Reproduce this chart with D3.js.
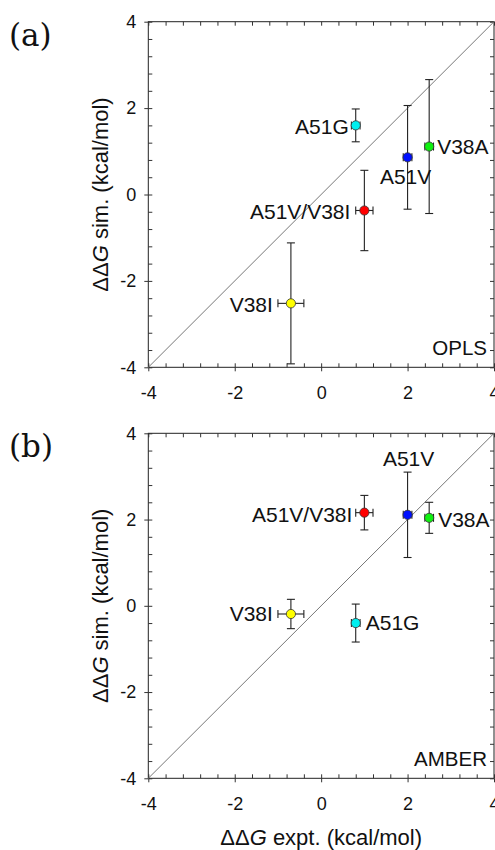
<!DOCTYPE html>
<html>
<head>
<meta charset="utf-8">
<script src="https://cdn.jsdelivr.net/npm/d3@7"></script>
<style>
  body { margin: 0; background: #fff; }
  svg { display: block; font-family: "Liberation Sans", Arial, sans-serif; }
</style>
</head>
<body>
<svg id="svgRoot" width="495" height="850"></svg>
<script>
// data
const mutants = ["A51G", "A51V", "V38A", "A51V/V38I", "V38I"]
const exptValues = [0.8, 2.0, 2.5, 1.0, -0.7]
const exptErrors = [0.1, 0.1, 0.1, 0.2, 0.3]
const oplsValues = [1.6, 0.86, 1.11, -0.37, -2.52]
const oplsErrors = [0.38, 1.2, 1.55, 0.93, 1.4]
const amberValues = [-0.4, 2.11, 2.04, 2.16, -0.19]
const amberErrors = [0.44, 0.99, 0.36, 0.4, 0.34]
const pointColors = ["#00f0f0", "#0010ff", "#10f010", "#ff0000", "#ffff00"]
const majorTicks = [-4, -2, 0, 2, 4]
const axisDomain = [-4, 4]

// label placement: [anchor, dx, dy]
const oplsLabelPos = [["end", -7, 1.5], ["middle", -2, 19], ["start", 8, 0], ["end", -14, 1], ["end", -18, 1]]
const amberLabelPos = [["start", 10, 0], ["middle", 1, -56], ["start", 9, 2], ["end", -12, 1.5], ["end", -18, 0]]

const minorTicks = d3.range(-40, 41, 4).map(d => d / 10)

const svg = d3.select("#svgRoot")

const left = 148.3, right = 494

function draw_panel(top, bottom, simValues, simErrors, labelPos, tag, name, showXTitle) {
  let g = svg.append("g")

  let x = d3.scaleLinear().domain(axisDomain).range([left, right])
  let y = d3.scaleLinear().domain(axisDomain).range([bottom, top])

  // frame
  g.append("rect")
    .attr("x", left).attr("y", top)
    .attr("width", right - left).attr("height", bottom - top)
    .attr("fill", "none").attr("stroke", "#222").attr("stroke-width", 1)

  // inner minor ticks on all sides
  let inner = [
    [d3.axisBottom(x), "translate(0," + bottom + ")"],
    [d3.axisTop(x), "translate(0," + top + ")"],
    [d3.axisLeft(y), "translate(" + left + ",0)"],
    [d3.axisRight(y), "translate(" + right + ",0)"],
  ]
  inner.forEach(([ax, tr]) => {
    g.append("g").attr("transform", tr)
      .call(ax.tickValues(minorTicks).tickSize(-4).tickFormat(() => ""))
      .call(s => s.select(".domain").remove())
      .selectAll("line").attr("stroke", "#333")
  })

  // major ticks with labels
  let gx = g.append("g").attr("transform", "translate(0," + bottom + ")")
    .call(d3.axisBottom(x).tickValues(majorTicks).tickSize(4).tickPadding(15).tickFormat(d => String(d)))
  let gy = g.append("g").attr("transform", "translate(" + left + ",0)")
    .call(d3.axisLeft(y).tickValues(majorTicks).tickSize(4).tickPadding(8).tickFormat(d => String(d)))
  ;[gx, gy].forEach(a => {
    a.select(".domain").remove()
    a.selectAll("line").attr("stroke", "#333")
    a.selectAll("text").attr("font-size", 18).attr("fill", "#111")
      .attr("font-family", "'Liberation Sans', Arial, sans-serif")
  })

  // diagonal
  g.append("line")
    .attr("x1", x(-4)).attr("y1", y(-4))
    .attr("x2", x(4)).attr("y2", y(4))
    .attr("stroke", "#777").attr("stroke-width", 1)

  let data = mutants.map((m, i) => ({
    name: m, x: exptValues[i], xe: exptErrors[i],
    y: simValues[i], ye: simErrors[i], color: pointColors[i], pos: labelPos[i]
  }))

  let eb = g.append("g").attr("stroke", "#222").attr("stroke-width", 1.1)
  data.forEach(d => {
    // vertical error
    eb.append("line").attr("x1", x(d.x)).attr("x2", x(d.x))
      .attr("y1", y(d.y + d.ye)).attr("y2", y(d.y - d.ye))
    ;[d.y + d.ye, d.y - d.ye].forEach(v => {
      eb.append("line").attr("x1", x(d.x) - 4).attr("x2", x(d.x) + 4)
        .attr("y1", y(v)).attr("y2", y(v))
    })
    // horizontal error
    eb.append("line").attr("y1", y(d.y)).attr("y2", y(d.y))
      .attr("x1", x(d.x - d.xe)).attr("x2", x(d.x + d.xe))
    ;[d.x - d.xe, d.x + d.xe].forEach(v => {
      eb.append("line").attr("y1", y(d.y) - 4).attr("y2", y(d.y) + 4)
        .attr("x1", x(v)).attr("x2", x(v))
    })
  })

  g.selectAll(".pt").data(data).enter().append("circle")
    .attr("class", "pt")
    .attr("cx", d => x(d.x)).attr("cy", d => y(d.y))
    .attr("r", 4.6)
    .attr("fill", d => d.color)
    .attr("stroke", "#333").attr("stroke-width", 0.8)

  g.selectAll(".lbl").data(data).enter().append("text")
    .attr("class", "lbl")
    .attr("x", d => x(d.x) + d.pos[1])
    .attr("y", d => y(d.y) + d.pos[2])
    .attr("dy", "0.35em")
    .attr("text-anchor", d => d.pos[0])
    .attr("font-size", 21).attr("fill", "#111")
    .text(d => d.name)

  // force field name
  g.append("text").attr("x", 487).attr("y", bottom - 12)
    .attr("text-anchor", "end").attr("font-size", 20.5).attr("fill", "#111")
    .text(name)

  // panel tag
  g.append("text").attr("x", 9).attr("y", top + 24)
    .attr("font-family", "'DejaVu Serif', serif").attr("font-size", 31).attr("fill", "#111")
    .text(tag)

  // y title
  let yt = g.append("text")
    .attr("transform", "translate(100," + ((top + bottom) / 2) + ") rotate(-90)")
    .attr("text-anchor", "middle").attr("dy", "0.35em")
    .attr("font-size", 22).attr("fill", "#111")
  yt.append("tspan").text("ΔΔ")
  yt.append("tspan").attr("font-style", "italic").text("G")
  yt.append("tspan").text(" sim. (kcal/mol)")

  if (showXTitle) {
    let xt = g.append("text")
      .attr("x", (left + right) / 2).attr("y", 837).attr("dy", "0.35em")
      .attr("text-anchor", "middle").attr("font-size", 22).attr("fill", "#111")
    xt.append("tspan").text("ΔΔ")
    xt.append("tspan").attr("font-style", "italic").text("G")
    xt.append("tspan").text(" expt. (kcal/mol)")
  }
}

draw_panel(21.7, 367.3, oplsValues, oplsErrors, oplsLabelPos, "(a)", "OPLS", false)
draw_panel(433.3, 778.3, amberValues, amberErrors, amberLabelPos, "(b)", "AMBER", true)
</script>
</body>
</html>
